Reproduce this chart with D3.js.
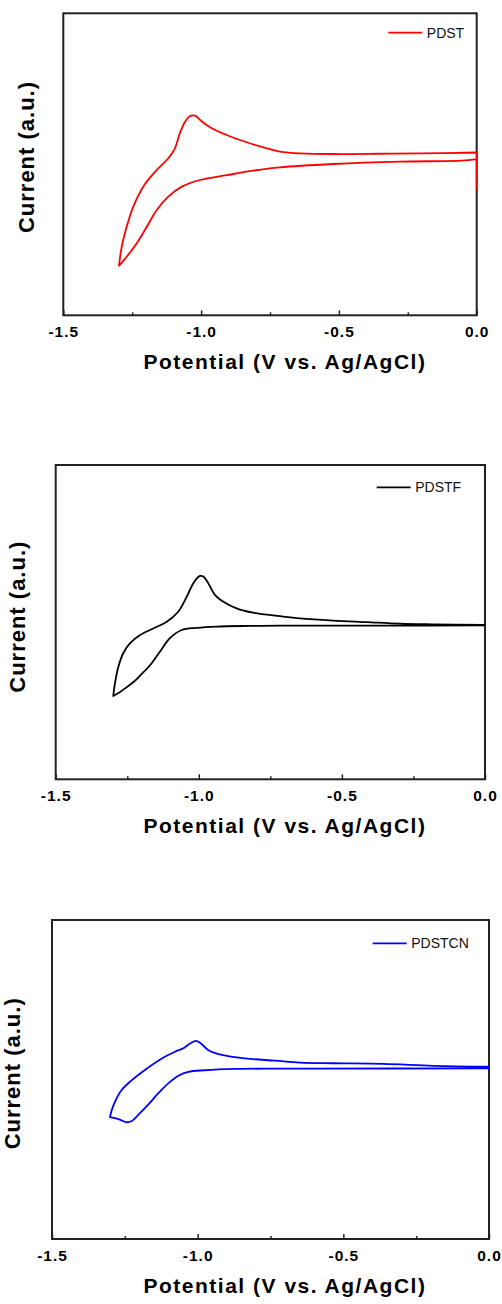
<!DOCTYPE html>
<html>
<head>
<meta charset="utf-8">
<script src="https://cdn.jsdelivr.net/npm/d3@7"></script>
<style>
  body { margin: 0; background: #fff; }
  svg { display: block; }
  text { font-family: "Liberation Sans", Arial, sans-serif; }
</style>
</head>
<body>
<div id="chart"></div>
<script>
// tick values along the potential axis
var majorTicks = [-1.5, -1.0, -0.5, 0.0];
var minorTicks = [-1.25, -0.75, -0.25];
var xTitle = "Potential (V vs. Ag/AgCl)";
var yTitle = "Current (a.u.)";

var names = ["PDST", "PDSTF", "PDSTCN"];
var colors = ["#ff0000", "#000000", "#0000ff"];

// PDST: potential (V) and current (a.u.), one closed scan
var pdstV = [0, 0, -0.206, -0.351, -0.496, -0.641, -0.714, -0.762, -0.835, -0.907, -0.968, -1.004, -1.022, -1.040,
  -1.058, -1.077, -1.095, -1.119, -1.167, -1.210, -1.246, -1.270, -1.288, -1.298,
  -1.270, -1.234, -1.197, -1.161, -1.119, -1.070, -1.004, -0.907, -0.811, -0.714, -0.521, -0.278, -0.054, 0];
var pdstI = [4.15, 5.39, 5.36, 5.35, 5.34, 5.36, 5.42, 5.53, 5.73, 5.97, 6.23, 6.47, 6.61, 6.60,
  6.41, 6.03, 5.53, 5.20, 4.75, 4.26, 3.60, 2.93, 2.27, 1.64,
  1.94, 2.38, 2.93, 3.49, 3.93, 4.26, 4.48, 4.64, 4.79, 4.90, 5.01, 5.09, 5.12, 5.17];
var pdstCorners = [1, 23];

// PDSTF
var pdstfV = [0, -0.182, -0.297, -0.413, -0.530, -0.646, -0.716, -0.810, -0.868, -0.914, -0.943, -0.967, -0.984, -0.996,
  -1.019, -1.042, -1.072, -1.112, -1.159, -1.205, -1.240, -1.264, -1.281, -1.293, -1.299,
  -1.275, -1.252, -1.225, -1.205, -1.171, -1.136, -1.101, -1.060, -1.007, -0.937, -0.821, -0.716, -0.297, 0];
var pdstfI = [4.91, 4.93, 4.95, 5.00, 5.05, 5.12, 5.19, 5.30, 5.44, 5.65, 5.86, 6.24, 6.45, 6.47,
  6.24, 5.81, 5.33, 5.01, 4.80, 4.59, 4.33, 4.01, 3.58, 3.05, 2.65,
  2.78, 2.93, 3.12, 3.30, 3.62, 4.06, 4.49, 4.75, 4.82, 4.86, 4.88, 4.89, 4.89, 4.90];
var pdstfCorners = [24];

// PDSTCN
var pdstcnV = [0, -0.191, -0.363, -0.534, -0.649, -0.734, -0.837, -0.917, -0.963, -0.989, -1.006, -1.026, -1.049, -1.078,
  -1.123, -1.181, -1.226, -1.261, -1.284, -1.295, -1.301,
  -1.272, -1.244, -1.226, -1.204, -1.169, -1.135, -1.101, -1.066, -1.032, -0.975, -0.872, -0.734, -0.649, 0];
var pdstcnI = [5.40, 5.43, 5.49, 5.51, 5.53, 5.59, 5.66, 5.77, 5.92, 6.13, 6.21, 6.13, 5.98, 5.87,
  5.66, 5.30, 4.98, 4.67, 4.30, 4.04, 3.82,
  3.76, 3.66, 3.70, 3.89, 4.22, 4.57, 4.88, 5.12, 5.24, 5.29, 5.33, 5.34, 5.34, 5.35];
var pdstcnCorners = [20];

var seriesV = [pdstV, pdstfV, pdstcnV];
var seriesI = [pdstI, pdstfI, pdstcnI];
var seriesCorners = [pdstCorners, pdstfCorners, pdstcnCorners];

// frame of each panel and where its labels sit
var panels = [
  {left: 63.3, right: 476.7, top: 13.3, bottom: 315.3, yTitleX: 34, yTitleY: 157, legX: 388.3, legY: 32.7},
  {left: 55.7, right: 485, top: 465, bottom: 779.3, yTitleX: 25, yTitleY: 616.7, legX: 376.7, legY: 487.3},
  {left: 52, right: 489, top: 920, bottom: 1239, yTitleX: 20, yTitleY: 1073.3, legX: 372.7, legY: 943.3}
];

var W = 502, H = 1304;
var svg = d3.select("#chart").append("svg").attr("width", W).attr("height", H);

panels.forEach(function(p, k) {
  var x = d3.scaleLinear().domain([-1.5, 0]).range([p.left, p.right]);
  var y = d3.scaleLinear().domain([0, 10]).range([p.bottom, p.top]);
  var g = svg.append("g");

  // major ticks with labels
  var axis = g.append("g")
    .attr("transform", "translate(0," + p.bottom + ")")
    .call(d3.axisBottom(x).tickValues(majorTicks).tickSizeInner(-5).tickSizeOuter(0).tickPadding(11)
      .tickFormat(function(d) { return d.toFixed(1); }));
  axis.select(".domain").remove();
  axis.selectAll("line").attr("stroke", "#222").attr("stroke-width", 1.5);
  axis.selectAll("text")
    .attr("fill", "#000")
    .style("font-size", "15.5px")
    .style("font-weight", "bold")
    .style("letter-spacing", "1px");

  var minor = g.append("g")
    .attr("transform", "translate(0," + p.bottom + ")")
    .call(d3.axisBottom(x).tickValues(minorTicks).tickSizeInner(-3).tickSizeOuter(0).tickFormat(""));
  minor.select(".domain").remove();
  minor.selectAll("line").attr("stroke", "#222").attr("stroke-width", 1.5);

  g.append("rect")
    .attr("x", p.left).attr("y", p.top)
    .attr("width", p.right - p.left).attr("height", p.bottom - p.top)
    .attr("fill", "none").attr("stroke", "#222").attr("stroke-width", 2);

  // repeat the sharp turning points so the spline keeps a corner there
  var pts = [];
  seriesV[k].forEach(function(v, i) {
    pts.push([v, seriesI[k][i]]);
    if (seriesCorners[k].indexOf(i) >= 0) pts.push([v, seriesI[k][i]]);
  });
  var line = d3.line()
    .x(function(d) { return x(d[0]); })
    .y(function(d) { return y(d[1]); })
    .curve(d3.curveCatmullRom.alpha(0.5));

  g.append("path")
    .datum(pts)
    .attr("d", line)
    .attr("fill", "none")
    .attr("stroke", colors[k])
    .attr("stroke-width", 1.8)
    .attr("stroke-linejoin", "round");

  g.append("text")
    .attr("x", 285).attr("y", p.bottom + 54)
    .attr("text-anchor", "middle")
    .style("font-size", "21px").style("font-weight", "bold").style("letter-spacing", "1.5px")
    .text(xTitle);

  g.append("text")
    .attr("transform", "translate(" + p.yTitleX + "," + p.yTitleY + ") rotate(-90)")
    .attr("text-anchor", "middle")
    .style("font-size", "22px").style("font-weight", "bold").style("letter-spacing", "1px")
    .text(yTitle);

  // legend
  g.append("line")
    .attr("x1", p.legX).attr("x2", p.legX + 34)
    .attr("y1", p.legY).attr("y2", p.legY)
    .attr("stroke", colors[k]).attr("stroke-width", 1.8);
  g.append("text")
    .attr("x", p.legX + 38.5).attr("y", p.legY + 5)
    .style("font-size", "14px")
    .attr("fill", "#111")
    .text(names[k]);
});
</script>
</body>
</html>
